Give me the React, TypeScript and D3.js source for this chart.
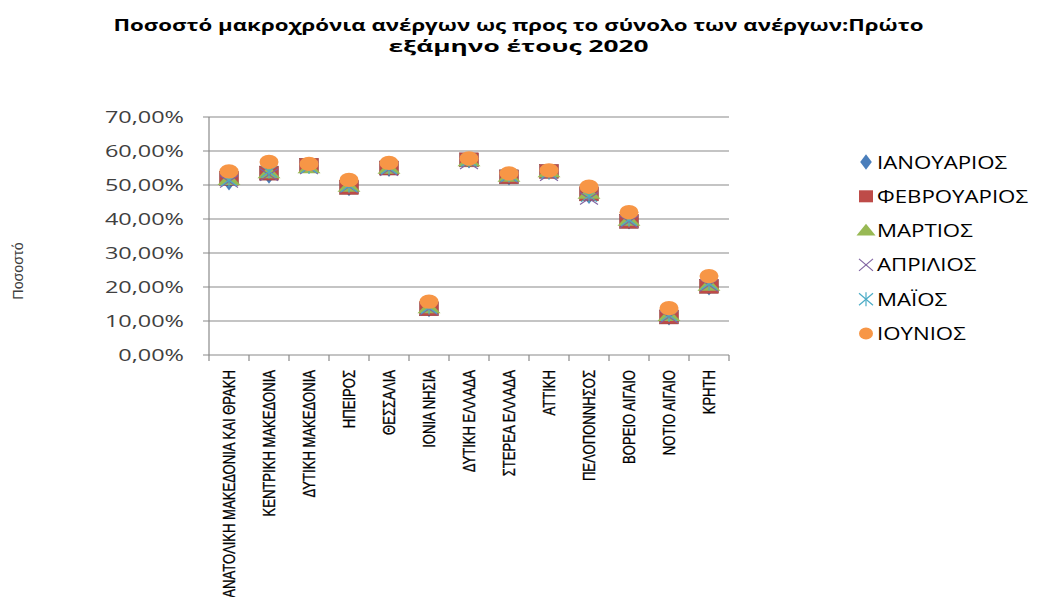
import React from "react";
import * as d3 from "d3";

const regions = [
  "ΑΝΑΤΟΛΙΚΗ ΜΑΚΕΔΟΝΙΑ ΚΑΙ ΘΡΑΚΗ",
  "ΚΕΝΤΡΙΚΗ ΜΑΚΕΔΟΝΙΑ",
  "ΔΥΤΙΚΗ ΜΑΚΕΔΟΝΙΑ",
  "ΗΠΕΙΡΟΣ",
  "ΘΕΣΣΑΛΙΑ",
  "ΙΟΝΙΑ ΝΗΣΙΑ",
  "ΔΥΤΙΚΗ ΕΛΛΑΔΑ",
  "ΣΤΕΡΕΑ ΕΛΛΑΔΑ",
  "ΑΤΤΙΚΗ",
  "ΠΕΛΟΠΟΝΝΗΣΟΣ",
  "ΒΟΡΕΙΟ ΑΙΓΑΙΟ",
  "ΝΟΤΙΟ ΑΙΓΑΙΟ",
  "ΚΡΗΤΗ",
];

const january = [50.5, 52.5, 55.5, 48.8, 54.5, 13.2, 57.0, 52.0, 53.8, 46.5, 39.0, 10.8, 19.6];
const february = [52.0, 53.5, 55.8, 49.3, 55.0, 13.6, 57.4, 52.4, 54.0, 47.4, 39.3, 11.2, 20.2];
const march = [51.5, 53.5, 55.0, 49.5, 54.8, 13.8, 57.0, 52.5, 53.8, 47.5, 39.5, 11.5, 20.4];
const april = [51.0, 53.0, 55.0, 49.5, 54.5, 13.5, 56.5, 52.5, 53.0, 46.0, 39.2, 11.2, 20.5];
const may = [51.5, 54.0, 55.3, 49.8, 55.0, 14.0, 57.2, 52.8, 53.6, 46.8, 39.8, 11.8, 21.0];
const june = [54.0, 56.8, 56.2, 51.5, 56.5, 15.7, 57.8, 53.4, 54.3, 49.5, 42.0, 13.8, 23.2];

const seriesNames = ["ΙΑΝΟΥΑΡΙΟΣ", "ΦΕΒΡΟΥΑΡΙΟΣ", "ΜΑΡΤΙΟΣ", "ΑΠΡΙΛΙΟΣ", "ΜΑΪΟΣ", "ΙΟΥΝΙΟΣ"];
const seriesValues = [january, february, march, april, may, june];
const seriesColors = ["#4a7ebb", "#be4b48", "#98b954", "#8064a2", "#4bacc6", "#f79646"];
const seriesShapes = ["diamond", "square", "triangle", "x", "star", "circle"];

const yTicks = [0, 0.1, 0.2, 0.3, 0.4, 0.5, 0.6, 0.7];

const title1 = "Ποσοστό μακροχρόνια ανέργων ως προς το σύνολο των ανέργων:Πρώτο";
const title2 = "εξάμηνο έτους 2020";
const yTitle = "Ποσοστό";

const W = 1037;
const H = 597;
const left = 209;
const right = 729;
const top = 117;
const bottom = 355;

function Marker({ shape, color }: { shape: string; color: string }) {
  if (shape === "diamond") {
    return <path d={d3.symbol().type(d3.symbolDiamond).size(60)()!} fill={color} transform="scale(1.3,1)" />;
  }
  if (shape === "square") {
    return <rect x={-9.5} y={-7} width={19} height={14} fill={color} stroke="#8c3836" strokeWidth={0.5} />;
  }
  if (shape === "triangle") {
    return <path d={d3.symbol().type(d3.symbolTriangle).size(90)()!} fill={color} transform="translate(0,1) scale(1.6,1)" />;
  }
  if (shape === "x") {
    return (
      <g stroke={color} strokeWidth={1.2}>
        <line x1={-9} y1={-6} x2={9} y2={6} />
        <line x1={-9} y1={6} x2={9} y2={-6} />
      </g>
    );
  }
  if (shape === "star") {
    return (
      <g stroke={color} strokeWidth={1.2}>
        <line x1={-8} y1={-6} x2={8} y2={6} />
        <line x1={-8} y1={6} x2={8} y2={-6} />
        <line x1={0} y1={-7} x2={0} y2={7} />
      </g>
    );
  }
  return <ellipse rx={9.5} ry={7.2} fill={color} />;
}

function LegendMarker({ shape, color }: { shape: string; color: string }) {
  if (shape === "diamond") {
    return <path d={d3.symbol().type(d3.symbolDiamond).size(70)()!} fill={color} transform="scale(1.3,1)" />;
  }
  if (shape === "square") {
    return <rect x={-7} y={-6} width={14} height={12} fill={color} />;
  }
  if (shape === "triangle") {
    return <path d={d3.symbol().type(d3.symbolTriangle).size(80)()!} fill={color} transform="translate(0,1) scale(1.4,1)" />;
  }
  if (shape === "x") {
    return (
      <g stroke={color} strokeWidth={1.2}>
        <line x1={-7} y1={-6} x2={7} y2={6} />
        <line x1={-7} y1={6} x2={7} y2={-6} />
      </g>
    );
  }
  if (shape === "star") {
    return (
      <g stroke={color} strokeWidth={1.2}>
        <line x1={-7} y1={-6} x2={7} y2={6} />
        <line x1={-7} y1={6} x2={7} y2={-6} />
        <line x1={0} y1={-7} x2={0} y2={7} />
      </g>
    );
  }
  return <ellipse rx={7} ry={6} fill={color} />;
}

export default function App() {
  const x = d3.scaleBand<string>().domain(regions).range([left, right]).padding(0);
  const y = d3.scaleLinear().domain([0, 0.7]).range([bottom, top]);
  const fmt = (v: number) => (v * 100).toFixed(2).replace(".", ",") + "%";
  const bounds = regions.map((r) => x(r)!).concat([right]);

  return (
    <svg
      width={W}
      height={H}
      style={{ position: "absolute", left: 0, top: 0, background: "#fff" }}
      fontFamily="'Open Sans', sans-serif"
    >
      <text x={W / 2} y={31} fontSize={16} fontWeight="bold" fill="#000" textAnchor="middle"
        textLength={810} lengthAdjust="spacingAndGlyphs">{title1}</text>
      <text x={W / 2} y={52} fontSize={16} fontWeight="bold" fill="#000" textAnchor="middle"
        textLength={260} lengthAdjust="spacingAndGlyphs">{title2}</text>

      {yTicks.map((t) => (
        <g key={t}>
          <line x1={left - 6} x2={right} y1={y(t)} y2={y(t)} stroke="#8a8a8a" strokeWidth={1.2} />
          <text transform={`translate(${left - 25},${y(t) + 6}) scale(1.38,1)`} fontSize={17} fill="#404040"
            textAnchor="end">{fmt(t)}</text>
        </g>
      ))}
      <line x1={left} x2={left} y1={top} y2={bottom} stroke="#8a8a8a" strokeWidth={1.2} />
      {bounds.map((b, i) => (
        <line key={i} x1={b} x2={b} y1={bottom} y2={bottom + 6} stroke="#8a8a8a" strokeWidth={1.2} />
      ))}

      <text transform={`translate(23,271) rotate(-90) scale(1.02,1)`} fontSize={14} fill="#404040" textAnchor="middle"
        fontFamily="'Liberation Sans', Arial, sans-serif">{yTitle}</text>

      {regions.map((r) => (
        <text key={r} transform={`translate(${x(r)! + x.bandwidth() / 2 + 6},370) rotate(-90) scale(0.77,1)`}
          fontSize={17} fill="#000" textAnchor="end" stroke="#000" strokeWidth={0.3}
          fontFamily="'Liberation Sans', Arial, sans-serif">{r}</text>
      ))}

      {seriesValues.map((vals, si) => (
        <g key={si}>
          {vals.map((v, i) => (
            <g key={i} transform={`translate(${x(regions[i])! + x.bandwidth() / 2},${y(v / 100)})`}>
              <Marker shape={seriesShapes[si]} color={seriesColors[si]} />
            </g>
          ))}
        </g>
      ))}

      {seriesNames.map((n, i) => (
        <g key={n} transform={`translate(866,${162 + i * 34.3})`}>
          <LegendMarker shape={seriesShapes[i]} color={seriesColors[i]} />
          <text transform="translate(11,6.5) scale(1.27,1)" fontSize={17.5} fill="#000">{n}</text>
        </g>
      ))}
    </svg>
  );
}
